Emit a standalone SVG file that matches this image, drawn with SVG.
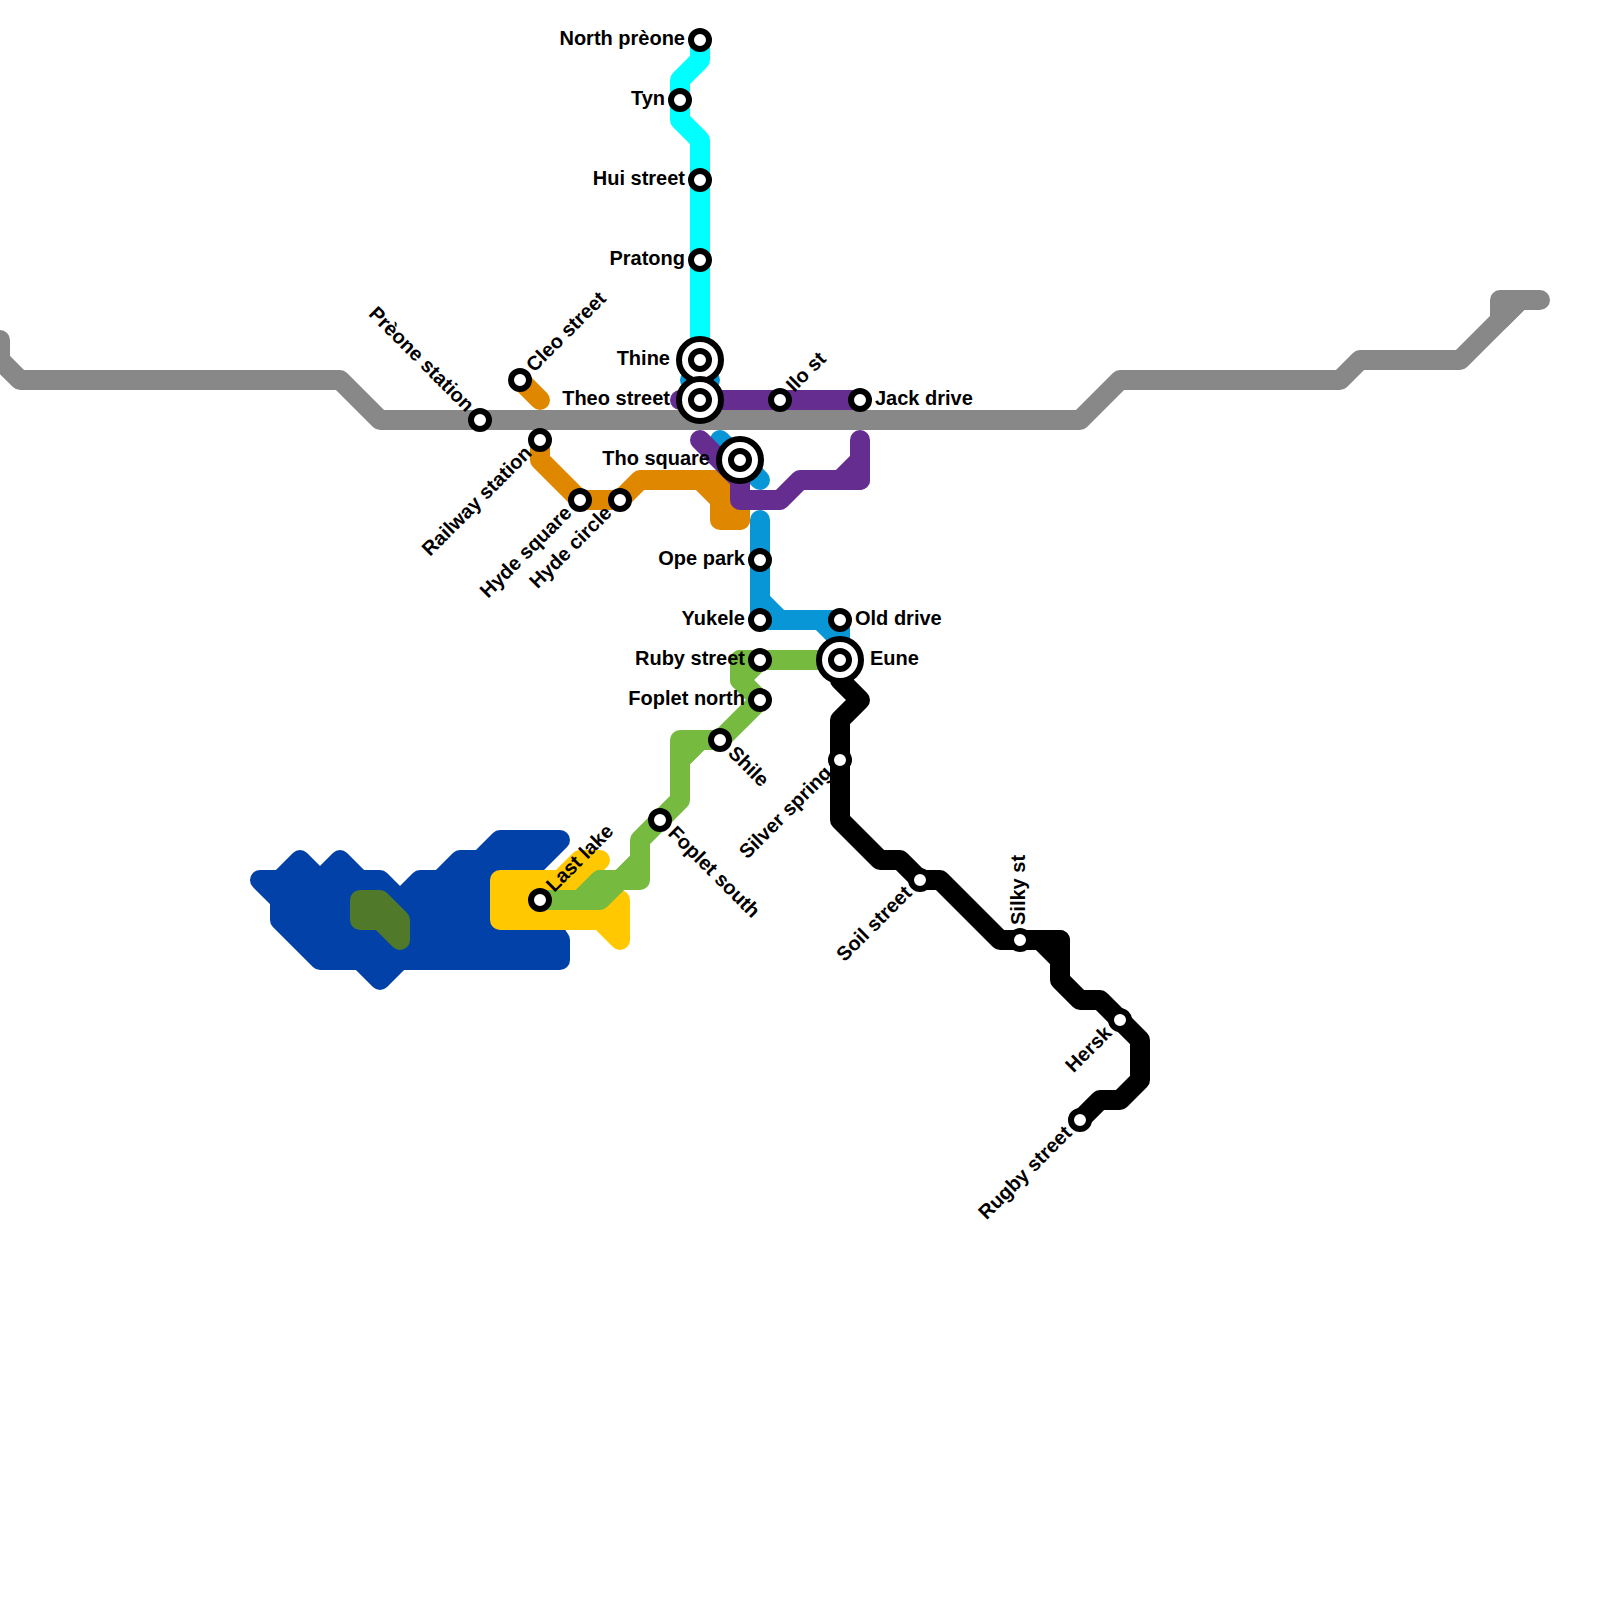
<svg xmlns="http://www.w3.org/2000/svg" width="1600" height="1600" viewBox="0 0 1600 1600">
<style>
.l{fill:none;stroke-width:20;stroke-linecap:round;stroke-linejoin:round}
.p{stroke-width:20;stroke-linecap:round;stroke-linejoin:round}
.s{fill:#fff;stroke:#000;stroke-width:6}
.o{fill:#fff;stroke:#000;stroke-width:6}
text{font-family:"Liberation Sans",Arial,sans-serif;font-weight:700;font-size:20px;fill:#000}
.e{text-anchor:end}
.gray{stroke:#888888}
.cyan{stroke:#00ffff}
.orange{stroke:#e08700}
.purple{stroke:#662d91}
.sky{stroke:#0896d7}
.green{stroke:#76bb40}
.black{stroke:#000}
.blue{stroke:#0242a8;fill:#0242a8}
.yellow{stroke:#ffc800;fill:#ffc800}
.olive{stroke:#507a29;fill:#507a29}
.fgreen{stroke:#76bb40;fill:#76bb40}
.fblack{stroke:#000;fill:#000}
.fpurple{stroke:#662d91;fill:#662d91}
.fsky{stroke:#0896d7;fill:#0896d7}
.forange{stroke:#e08700;fill:#e08700}
.fgray{stroke:#888888;fill:#888888}
</style>
<g id="connectors">
<path class="p blue" d="M260 880H280L300 860 320 880 340 860 360 880H380L400 900 420 880H440L460 860H480L500 840H560L520 880 560 940V960H400L380 980 360 960H320L280 920V900Z"/>
<path class="p yellow" d="M500 880H560L580 860H600L580 880 600 900H620V940L600 920H500Z"/>
<path class="p olive" d="M360 900H380L400 920V940L380 920H360Z"/>
<path class="l gray" d="M0 340V360L20 380H340L380 420H1080L1120 380H1340L1360 360H1460L1520 300H1540"/>
<path class="p fgray" d="M1500 320V300H1520Z"/>
<path class="l cyan" d="M700 40V60L680 80V120L700 140V360"/>
<path class="l sky" d="M690 380H710"/>
<path class="l sky" d="M720 440L760 480"/>
<path class="l sky" d="M760 520V620H840V660"/>
<path class="p fsky" d="M760 600L780 620H760Z"/>
<path class="p fsky" d="M820 620L840 640V620Z"/>
<path class="l orange" d="M520 380L540 400"/>
<path class="l orange" d="M540 440V460L580 500H620L640 480H720"/>
<path class="p forange" d="M700 480H720L740 500V520H720V500Z"/>
<path class="l orange" d="M720 500L740 520"/>
<path class="l purple" d="M680 400H860"/>
<path class="l purple" d="M700 440L740 480V500H780L800 480H860V440"/>
<path class="p fpurple" d="M860 460L840 480H860Z"/>
<path class="l green" d="M540 900H580L600 880H620L640 860V840L680 800V760L700 740H720L760 700L740 680V660H840"/>
<path class="p fgreen" d="M580 900H600L620 880H640V860L620 880H600Z"/>
<path class="p fgreen" d="M680 760V740H700Z"/>
<path class="p fgreen" d="M740 680V660H760Z"/>
<path class="l black" d="M840 680L860 700 840 720V820L880 860H900L920 880H940L1000 940H1060V980L1080 1000H1100L1140 1040V1080L1120 1100H1100L1080 1120"/>
<path class="p fblack" d="M1040 940L1060 960V940Z"/>
</g>
<g id="n-north-preone"><circle class="s" cx="700" cy="40" r="9"/><text class="e" x="685" y="45">North prèone</text></g>
<g id="n-tyn"><circle class="s" cx="680" cy="100" r="9"/><text class="e" x="665" y="105">Tyn</text></g>
<g id="n-hui-street"><circle class="s" cx="700" cy="180" r="9"/><text class="e" x="685" y="185">Hui street</text></g>
<g id="n-pratong"><circle class="s" cx="700" cy="260" r="9"/><text class="e" x="685" y="265">Pratong</text></g>
<g id="n-thine"><circle class="o" cx="700" cy="360" r="21"/><circle class="s" cx="700" cy="360" r="9"/><text class="e" x="670" y="365">Thine</text></g>
<g id="n-theo-street"><circle class="o" cx="700" cy="400" r="21"/><circle class="s" cx="700" cy="400" r="9"/><text class="e" x="670" y="405">Theo street</text></g>
<g id="n-ilo-st"><circle class="s" cx="780" cy="400" r="9"/><text transform="translate(780 400) rotate(-45)" x="15" y="5">Ilo st</text></g>
<g id="n-jack-drive"><circle class="s" cx="860" cy="400" r="9"/><text x="875" y="405">Jack drive</text></g>
<g id="n-tho-square"><circle class="o" cx="740" cy="460" r="21"/><circle class="s" cx="740" cy="460" r="9"/><text class="e" x="710" y="465">Tho square</text></g>
<g id="n-preone-station"><circle class="s" cx="480" cy="420" r="9"/><text class="e" transform="translate(480 420) rotate(45)" x="-15" y="5">Prèone station</text></g>
<g id="n-cleo-street"><circle class="s" cx="520" cy="380" r="9"/><text transform="translate(520 380) rotate(-45)" x="15" y="5">Cleo street</text></g>
<g id="n-railway-station"><circle class="s" cx="540" cy="440" r="9"/><text class="e" transform="translate(540 440) rotate(-45)" x="-15" y="5">Railway station</text></g>
<g id="n-hyde-square"><circle class="s" cx="580" cy="500" r="9"/><text class="e" transform="translate(580 500) rotate(-45)" x="-15" y="5">Hyde square</text></g>
<g id="n-hyde-circle"><circle class="s" cx="620" cy="500" r="9"/><text class="e" transform="translate(620 500) rotate(-45)" x="-15" y="5">Hyde circle</text></g>
<g id="n-ope-park"><circle class="s" cx="760" cy="560" r="9"/><text class="e" x="745" y="565">Ope park</text></g>
<g id="n-yukele"><circle class="s" cx="760" cy="620" r="9"/><text class="e" x="745" y="625">Yukele</text></g>
<g id="n-old-drive"><circle class="s" cx="840" cy="620" r="9"/><text x="855" y="625">Old drive</text></g>
<g id="n-ruby-street"><circle class="s" cx="760" cy="660" r="9"/><text class="e" x="745" y="665">Ruby street</text></g>
<g id="n-eune"><circle class="o" cx="840" cy="660" r="21"/><circle class="s" cx="840" cy="660" r="9"/><text x="870" y="665">Eune</text></g>
<g id="n-foplet-north"><circle class="s" cx="760" cy="700" r="9"/><text class="e" x="745" y="705">Foplet north</text></g>
<g id="n-shile"><circle class="s" cx="720" cy="740" r="9"/><text transform="translate(720 740) rotate(45)" x="15" y="5">Shile</text></g>
<g id="n-foplet-south"><circle class="s" cx="660" cy="820" r="9"/><text transform="translate(660 820) rotate(45)" x="15" y="5">Foplet south</text></g>
<g id="n-last-lake"><circle class="s" cx="540" cy="900" r="9"/><text transform="translate(540 900) rotate(-45)" x="15" y="5">Last lake</text></g>
<g id="n-silver-spring"><circle class="s" cx="840" cy="760" r="9"/><text class="e" transform="translate(840 760) rotate(-45)" x="-15" y="5">Silver spring</text></g>
<g id="n-soil-street"><circle class="s" cx="920" cy="880" r="9"/><text class="e" transform="translate(920 880) rotate(-45)" x="-15" y="5">Soil street</text></g>
<g id="n-silky-st"><circle class="s" cx="1020" cy="940" r="9"/><text transform="translate(1020 940) rotate(-90)" x="15" y="5">Silky st</text></g>
<g id="n-hersk"><circle class="s" cx="1120" cy="1020" r="9"/><text class="e" transform="translate(1120 1020) rotate(-45)" x="-15" y="5">Hersk</text></g>
<g id="n-rugby-street"><circle class="s" cx="1080" cy="1120" r="9"/><text class="e" transform="translate(1080 1120) rotate(-45)" x="-15" y="5">Rugby street</text></g>
</svg>
